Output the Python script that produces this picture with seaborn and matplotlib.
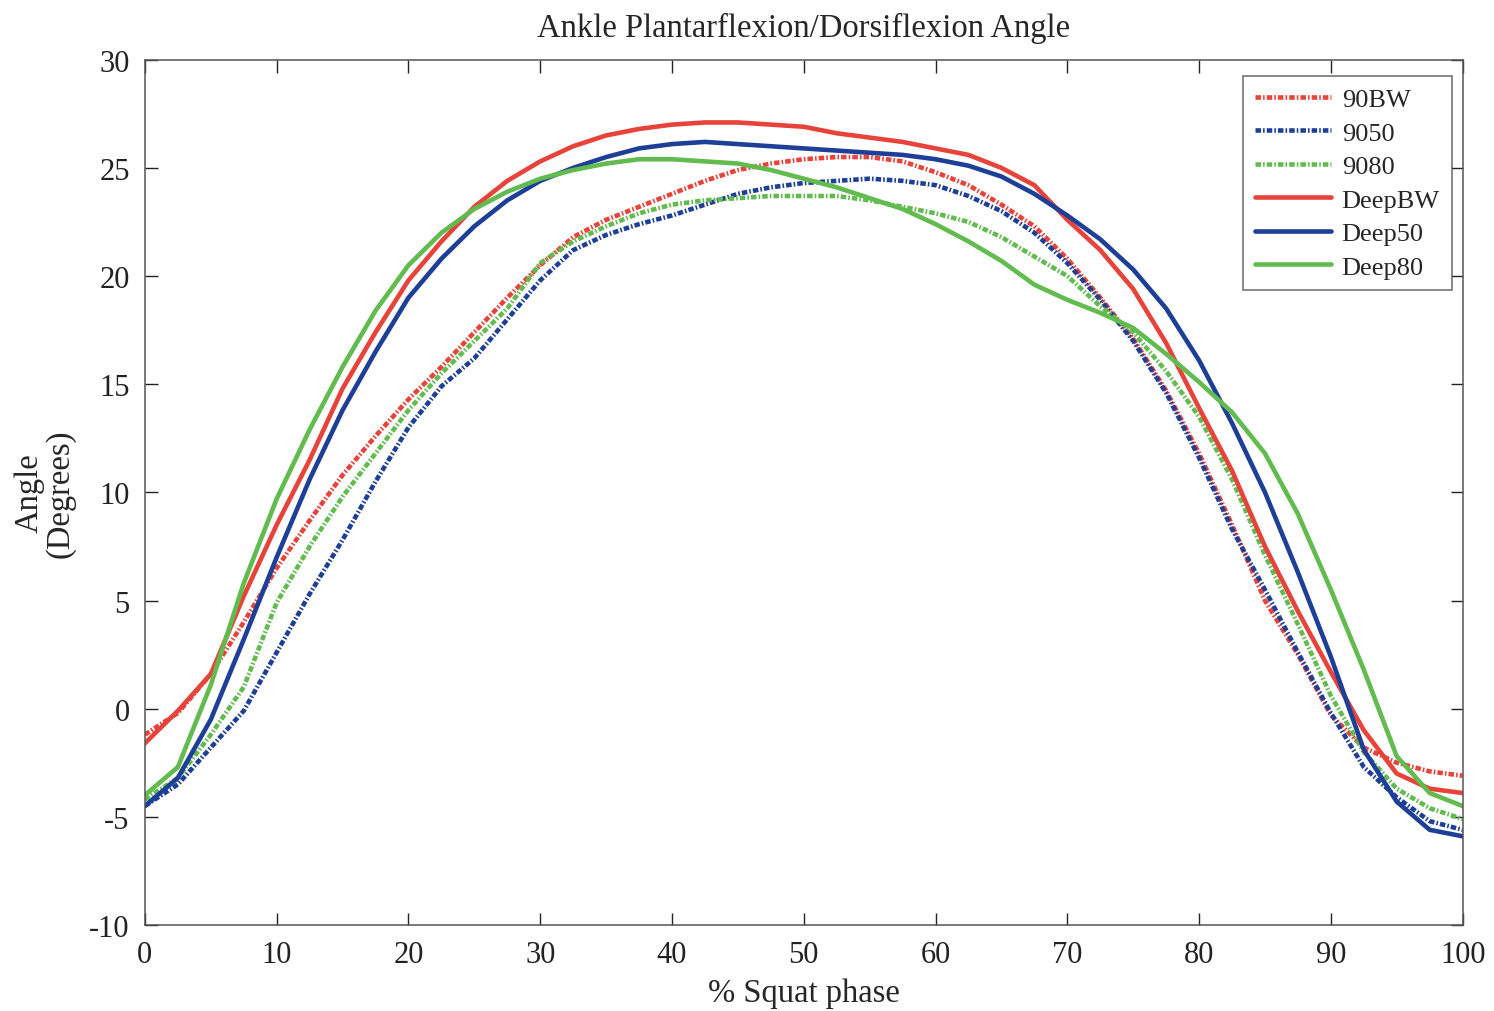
import numpy as np
import pandas as pd
import matplotlib
matplotlib.use("Agg")
import matplotlib.pyplot as plt
import seaborn as sns

phase = [0, 2.5, 5, 7.5, 10, 12.5, 15, 17.5, 20, 22.5, 25, 27.5, 30, 32.5, 35, 37.5,
         40, 42.5, 45, 47.5, 50, 52.5, 55, 57.5, 60, 62.5, 65, 67.5, 70, 72.5, 75,
         77.5, 80, 82.5, 85, 87.5, 90, 92.5, 95, 97.5, 100]

s90BW = [-1.2, -0.2, 1.6, 4.0, 6.5, 8.7, 10.8, 12.6, 14.3, 15.8, 17.4, 19.0, 20.5, 21.8,
         22.6, 23.2, 23.8, 24.4, 24.9, 25.2, 25.4, 25.5, 25.5, 25.3, 24.8, 24.2, 23.3,
         22.3, 20.8, 19.0, 17.1, 14.7, 11.8, 8.5, 5.0, 2.5, -0.3, -1.8, -2.5, -2.9, -3.1]
s9050 = [-4.5, -3.5, -1.8, -0.1, 2.6, 5.3, 7.8, 10.5, 13.0, 14.9, 16.2, 18.0, 19.8, 21.2,
         21.9, 22.4, 22.8, 23.3, 23.8, 24.1, 24.3, 24.4, 24.5, 24.4, 24.2, 23.7, 23.0,
         22.0, 20.6, 18.9, 17.0, 14.6, 11.6, 8.3, 5.5, 2.6, -0.2, -2.7, -4.1, -5.2, -5.6]
s9080 = [-4.2, -3.2, -1.2, 1.0, 4.9, 7.5, 9.8, 11.8, 13.8, 15.5, 17.0, 18.5, 20.6, 21.6,
         22.3, 22.9, 23.3, 23.5, 23.6, 23.7, 23.7, 23.7, 23.5, 23.2, 22.9, 22.5, 21.8,
         20.9, 20.0, 18.6, 17.4, 15.6, 13.5, 10.6, 7.1, 3.9, 0.6, -2.0, -3.7, -4.6, -5.1]
sDeepBW = [-1.6, -0.1, 1.6, 5.2, 8.5, 11.5, 14.8, 17.4, 19.8, 21.6, 23.2, 24.4, 25.3,
           26.0, 26.5, 26.8, 27.0, 27.1, 27.1, 27.0, 26.9, 26.6, 26.4, 26.2, 25.9, 25.6,
           25.0, 24.2, 22.6, 21.2, 19.4, 16.9, 13.9, 11.0, 7.5, 4.5, 1.7, -1.0, -3.0,
           -3.7, -3.9]
sDeep50 = [-4.5, -3.2, -0.5, 3.2, 7.0, 10.6, 13.8, 16.5, 19.0, 20.8, 22.3, 23.5, 24.4,
           25.0, 25.5, 25.9, 26.1, 26.2, 26.1, 26.0, 25.9, 25.8, 25.7, 25.6, 25.4, 25.1,
           24.6, 23.8, 22.8, 21.7, 20.3, 18.5, 16.1, 13.2, 10.0, 6.3, 2.4, -1.9, -4.3,
           -5.6, -5.9]
sDeep80 = [-4.0, -2.7, 1.1, 5.8, 9.7, 12.9, 15.8, 18.4, 20.5, 22.0, 23.1, 23.9, 24.5,
           24.9, 25.2, 25.4, 25.4, 25.3, 25.2, 24.9, 24.5, 24.1, 23.6, 23.1, 22.4, 21.6,
           20.7, 19.6, 18.9, 18.3, 17.6, 16.4, 15.1, 13.7, 11.8, 9.0, 5.5, 1.8, -2.2,
           -3.9, -4.5]

labels = ["90BW", "9050", "9080", "DeepBW", "Deep50", "Deep80"]
series = [s90BW, s9050, s9080, sDeepBW, sDeep50, sDeep80]
colors = ["#E8433B", "#1E3F98", "#62BB4E", "#E8433B", "#1E3F98", "#62BB4E"]
dashed = [True, True, True, False, False, False]

sns.set_theme(style="ticks")
plt.rcParams["font.family"] = ["Liberation Serif", "DejaVu Serif"]
plt.rcParams["axes.unicode_minus"] = False

fig = plt.figure(figsize=(14.94, 10.12), dpi=100)
ax = fig.add_axes([0.097, 0.085, 0.882, 0.855])

for lab, vals, col, dsh in zip(labels, series, colors, dashed):
    df = pd.DataFrame({"phase": phase, "angle": vals})
    ls = (0, (1.2, 0.45, 0.35, 0.45)) if dsh else "-"
    sns.lineplot(data=df, x="phase", y="angle", ax=ax, color=col, label=lab,
                 linewidth=3.3, linestyle=ls, dash_capstyle="butt",
                 solid_joinstyle="round", dash_joinstyle="round")

ax.set_xlim(0, 100)
ax.set_ylim(-10, 30)
ax.set_xticks(np.arange(0, 101, 10))
ax.set_yticks(np.arange(-10, 31, 5))
ax.tick_params(direction="in", length=9, width=1, top=True, right=True,
               labelsize=22, colors="#222222", pad=11)
for sp in ax.spines.values():
    sp.set_color("#555555")
    sp.set_linewidth(1.1)

ax.set_xlabel("% Squat phase", fontsize=23.5, labelpad=6)
ax.set_ylabel("Angle\n(Degrees)", fontsize=23.5, labelpad=10, linespacing=1.0)
ax.set_title("Ankle Plantarflexion/Dorsiflexion Angle", fontsize=23.5, pad=17)

leg = ax.legend(loc="upper right", bbox_to_anchor=(0.9917, 0.9815), fontsize=19,
                frameon=True, fancybox=False, edgecolor="#444444",
                handlelength=2.9, handletextpad=0.4, labelspacing=0.38,
                borderpad=0.45, borderaxespad=0)
leg.get_frame().set_linewidth(1.1)

fig.savefig("out.png", dpi=100, facecolor="white")
